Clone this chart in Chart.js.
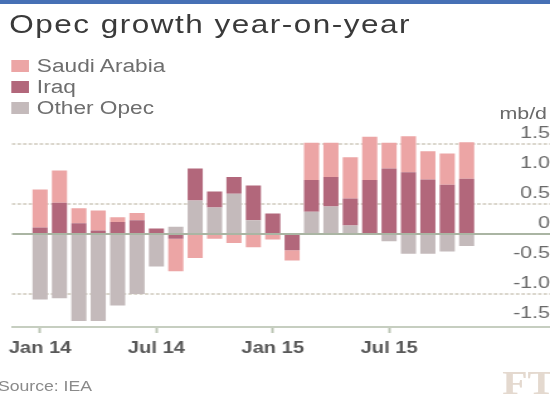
<!DOCTYPE html>
<html>
<head>
<meta charset="utf-8">
<title>Opec growth year-on-year</title>
<script src="https://cdn.jsdelivr.net/npm/chart.js@4.4.1/dist/chart.umd.min.js"></script>
<style>
    html, body { margin: 0; padding: 0; background: #fff; overflow: hidden; }
    body { width: 550px; height: 394px; position: relative; font-family: "Liberation Sans", Arial, sans-serif; }
    /* the original graphic is stretched sideways, so the whole page is too */
    #page { position: absolute; left: 0; top: 0; width: 437px; height: 394px; transform: scaleX(1.2586); transform-origin: 0 0; }
    #topbar { position: absolute; left: 0; top: 0; width: 437px; height: 4px; background: #4670b5; }
    #chartBox { position: absolute; left: 0; top: 0; width: 437px; height: 394px; }
    .txt { position: absolute; white-space: nowrap; }
    #title { left: 7.4px; top: 12px; font-size: 25px; line-height: 25px; letter-spacing: 1.2px; color: #3a3a3a; }
    .legend-row { position: absolute; left: 9.3px; height: 18px; width: 200px; }
    .legend-row .box { position: absolute; left: 0; width: 14px; height: 12px; }
    .legend-row .lbl { position: absolute; left: 20px; top: 0; font-size: 18px; line-height: 18px; color: #6e6e6e; white-space: nowrap; }
    #unit { right: 2.4px; top: 104.6px; font-size: 17px; line-height: 17px; color: #6a6a6a; }
    #source { left: -1.6px; top: 379px; font-size: 14px; line-height: 14px; color: #8a8a8a; }
    #ft { left: 399px; top: 366.5px; font-family: "Liberation Serif", serif; font-weight: bold; font-size: 33px; line-height: 33px; color: #e4d9cf; }
</style>
</head>
<body>
<div id="page">
    <div id="topbar"></div>
    <div id="chartBox"><canvas id="opecChart"></canvas></div>
    <div class="txt" id="title">Opec growth year-on-year</div>
    <div id="legend"></div>
    <div class="txt" id="unit">mb/d</div>
    <div class="txt" id="source">Source: IEA</div>
    <div class="txt" id="ft">FT</div>
</div>
<script>
const months = ['Jan 14', 'Feb 14', 'Mar 14', 'Apr 14', 'May 14', 'Jun 14', 'Jul 14', 'Aug 14',
    'Sep 14', 'Oct 14', 'Nov 14', 'Dec 14', 'Jan 15', 'Feb 15', 'Mar 15', 'Apr 15',
    'May 15', 'Jun 15', 'Jul 15', 'Aug 15', 'Sep 15', 'Oct 15', 'Nov 15'];

// mb/d change on a year earlier
const saudi = [0.63, 0.54, 0.25, 0.33, 0.08, 0.12, 0.0, -0.54, -0.40, -0.08, -0.15, -0.22,
    -0.09, -0.17, 0.62, 0.57, 0.69, 0.72, 0.43, 0.60, 0.47, 0.52, 0.61];
const iraq = [0.11, 0.52, 0.18, 0.06, 0.20, 0.23, 0.09, -0.08, 0.53, 0.27, 0.28, 0.58,
    0.34, -0.27, 0.53, 0.49, 0.45, 0.90, 1.09, 1.03, 0.91, 0.82, 0.92];
const otherOpec = [-1.09, -1.07, -1.45, -1.45, -1.19, -1.00, -0.54, 0.12, 0.56, 0.44, 0.67, 0.23,
    0.0, 0.0, 0.37, 0.46, 0.14, 0.0, -0.12, -0.33, -0.33, -0.29, -0.20];

const xTickMonths = [0, 6, 12, 18];
const yTicks = [-1.5, -1, -0.5, 0, 0.5, 1, 1.5];
const dashedLines = [1.5, 0.5, -1];

const colours = {
    saudi: '#eca5a5',
    iraq: '#b2677b',
    other: '#c4babb'
};

function toPoints(values) {
    return values.map((v, i) => ({ x: i, y: v }));
}

// stacking order: Other Opec nearest zero, Saudi Arabia outermost
const datasets = [
    { label: 'Other Opec', data: toPoints(otherOpec), backgroundColor: colours.other },
    { label: 'Iraq', data: toPoints(iraq), backgroundColor: colours.iraq },
    { label: 'Saudi Arabia', data: toPoints(saudi), backgroundColor: colours.saudi }
];

// legend, top to bottom
const legendTops = [57.3, 78.3, 99.3];
const legendEl = document.getElementById('legend');
datasets.slice().reverse().forEach((ds, i) => {
    const row = document.createElement('div');
    row.className = 'legend-row';
    row.style.top = legendTops[i] + 'px';
    row.innerHTML = '<div class="box" style="top:3px;background:' + ds.backgroundColor + '"></div>' +
        '<div class="lbl">' + ds.label + '</div>';
    legendEl.appendChild(row);
});

const tickFont = { family: '"Liberation Sans", Arial, sans-serif' };

new Chart(document.getElementById('opecChart').getContext('2d'), {
    type: 'bar',
    data: { datasets: datasets },
    options: {
        responsive: true,
        maintainAspectRatio: false,
        animation: false,
        barPercentage: 0.78,
        categoryPercentage: 1,
        layout: { padding: { left: 9.5, right: 0, top: 129, bottom: 27 } },
        plugins: {
            legend: { display: false },
            tooltip: { enabled: false }
        },
        scales: {
            x: {
                type: 'linear',
                stacked: true,
                offset: false,
                bounds: 'data',
                min: -1.45,
                max: 26.3,
                afterBuildTicks: s => { s.ticks = xTickMonths.map(v => ({ value: v })); },
                afterFit: s => { s.height = 40; s.paddingLeft = 0; s.paddingRight = 0; },
                grid: { offset: false, drawOnChartArea: false, drawTicks: true, tickLength: 6, tickWidth: 2, tickColor: '#bcc6b5' },
                border: { display: true, color: '#c6cec0', width: 2 },
                ticks: {
                    autoSkip: false,
                    maxRotation: 0,
                    padding: 6,
                    color: '#585858',
                    font: Object.assign({ size: 16, weight: 'bold' }, tickFont),
                    callback: v => months[v]
                }
            },
            y: {
                type: 'linear',
                position: 'right',
                stacked: true,
                min: -1.55,
                max: 1.75,
                afterBuildTicks: s => { s.ticks = yTicks.map(v => ({ value: v })); },
                afterFit: s => { s.width = 0; },
                grid: {
                    drawTicks: false,
                    lineWidth: 2,
                    color: ctx => (ctx.tick && dashedLines.includes(ctx.tick.value)) ? '#dad6cc' : 'rgba(0,0,0,0)'
                },
                border: { display: false, dash: [2.8, 1.6] },
                ticks: {
                    mirror: true,
                    padding: 0,
                    labelOffset: -11,
                    color: '#6a6a6a',
                    font: Object.assign({ size: 17 }, tickFont),
                    callback: v => v === 0 ? '0' : v.toFixed(1)
                }
            },
            zero: {
                type: 'linear',
                axis: 'y',
                position: 'right',
                min: -1.55,
                max: 1.75,
                afterBuildTicks: s => { s.ticks = [{ value: 0 }]; },
                afterFit: s => { s.width = 0; },
                grid: { drawTicks: false, lineWidth: 2, color: '#aab5a3' },
                border: { display: false },
                ticks: { display: false }
            }
        }
    }
});
</script>
</body>
</html>
